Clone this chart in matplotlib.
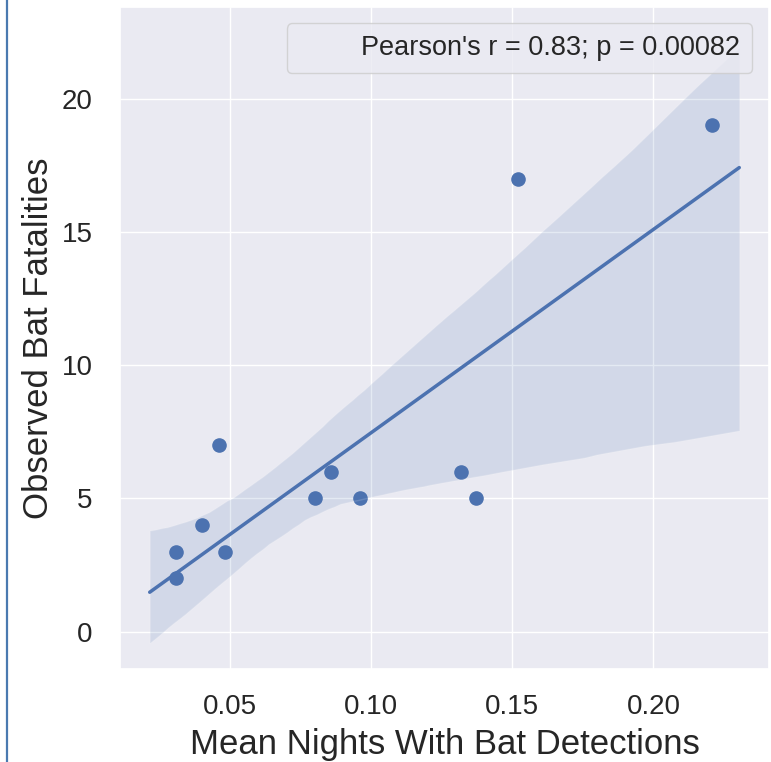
import matplotlib
matplotlib.use("Agg")
import matplotlib.pyplot as plt
from matplotlib.lines import Line2D
import seaborn as sns
import pandas as pd

# Mean fraction of nights with bat detections per turbine and observed fatalities
detection_nights = [0.0312, 0.0312, 0.0402, 0.0461, 0.0482, 0.0801,
                    0.0860, 0.0963, 0.1320, 0.1373, 0.1519, 0.2209]
fatalities = [2, 3, 4, 7, 3, 5, 6, 5, 6, 5, 17, 19]

x_ticks = [0.05, 0.10, 0.15, 0.20]
y_ticks = [0, 5, 10, 15, 20]
stats_label = "Pearson's r = 0.83; p = 0.00082"

sns.set_theme(style="darkgrid")
plt.rcParams["font.family"] = ["Liberation Sans", "DejaVu Sans"]

df = pd.DataFrame({"nights": detection_nights, "fatalities": fatalities})

fig = plt.figure(figsize=(7.71, 7.62), dpi=100)
ax = fig.add_axes([0.156, 0.122, 0.841, 0.869])

sns.regplot(data=df, x="nights", y="fatalities", ax=ax, truncate=False,
            seed=3, scatter_kws={"s": 90, "alpha": 1},
            line_kws={"lw": 2.5})

ax.set_xticks(x_ticks)
ax.set_yticks(y_ticks)
ax.set_xlim(0.0113, 0.2408)
ax.set_ylim(-1.4, 23.45)
ax.tick_params(axis="both", labelsize=20, colors="#262626")
ax.tick_params(axis="y", pad=14)
ax.tick_params(axis="x", pad=12)
ax.set_xlabel("Mean Nights With Bat Detections", fontsize=25, labelpad=6)
ax.set_ylabel("Observed Bat Fatalities", fontsize=25, labelpad=5)

# empty handle keeps some legend spacing in front of the text
ax.legend(handles=[Line2D([], [], linestyle="none")], labels=[stats_label],
          loc="upper right", fontsize=19.5, borderaxespad=0.6,
          borderpad=0.45, handlelength=1.5, framealpha=0.8)

# thin blue frame line on the left edge
fig.add_artist(Line2D([0.009, 0.009], [0, 1], transform=fig.transFigure,
                      color="#4a7ab0", lw=1.6))

fig.savefig("out.png", dpi=100)
